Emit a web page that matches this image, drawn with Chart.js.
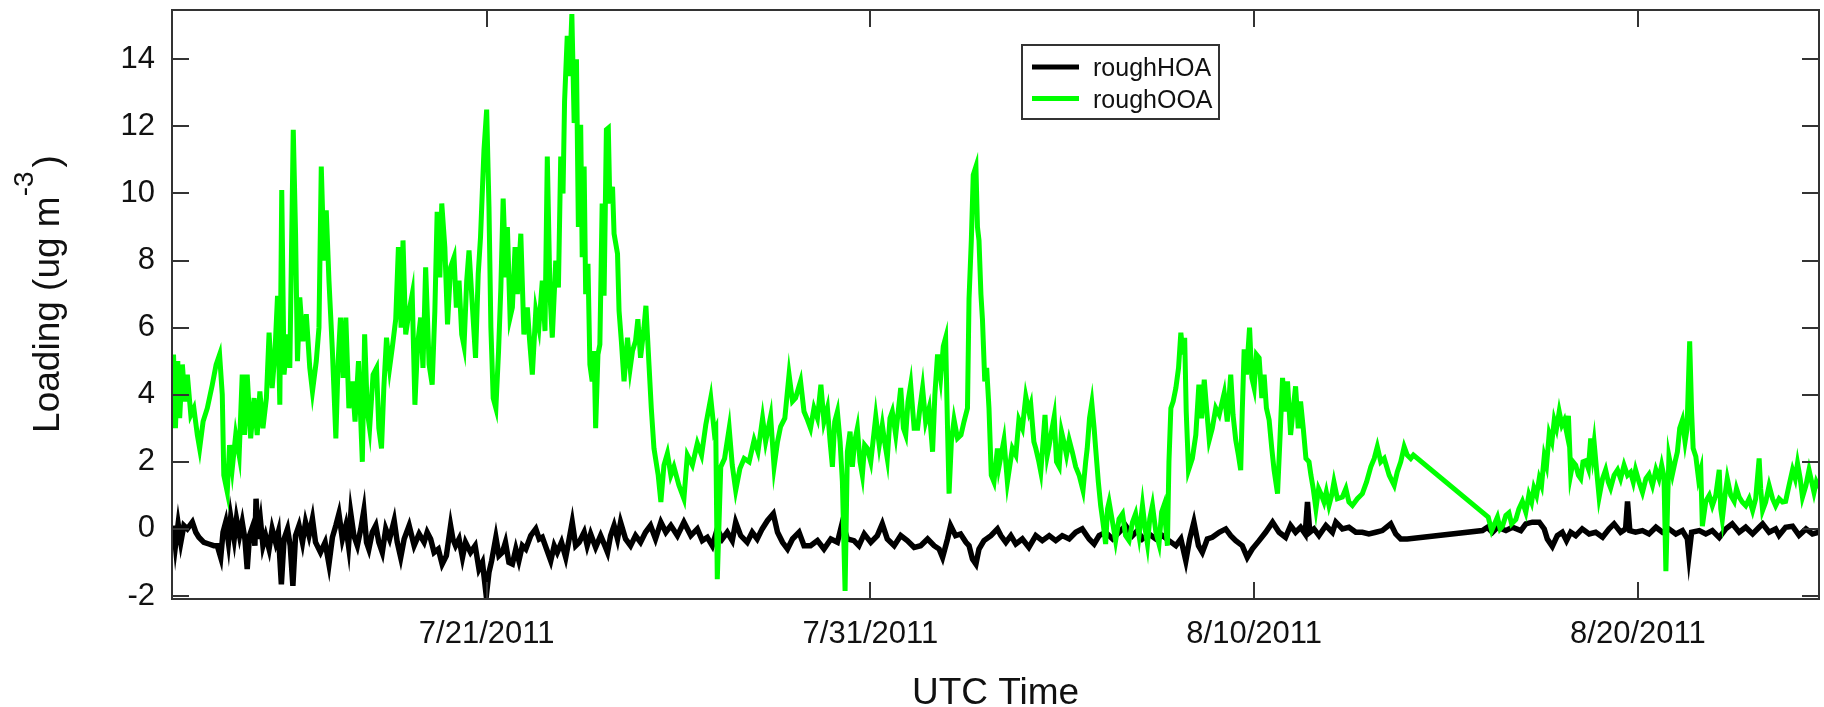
<!DOCTYPE html>
<html>
<head>
<meta charset="utf-8">
<script src="https://cdn.jsdelivr.net/npm/chart.js@4.4.0/dist/chart.umd.min.js"></script>
<style>
  html, body { margin: 0; padding: 0; background: #fff; }
  #contenitore { width: 1824px; height: 707px; }
</style>
</head>
<body>
<div id="contenitore"><canvas id="graficoLinee" width="1824" height="707"></canvas></div>
<script>
// tempo in giorni di luglio 2011 (32 = 1 agosto)
const xMin = 12.8;
const xMax = 55.72;
const xTickDays = [21, 31, 41, 51];
const xTickLabels = ["7/21/2011", "7/31/2011", "8/10/2011", "8/20/2011"];
const yTickValues = [-2, 0, 2, 4, 6, 8, 10, 12, 14];
const etichette = ["roughHOA", "roughOOA"];
const colori = ["#000000", "#00FF00"];

const ooaDays = [
  12.84, 12.89, 12.95, 13.0, 13.07, 13.14, 13.2, 13.29, 13.37, 13.46,
  13.52, 13.61, 13.72, 13.85, 13.95, 14.04, 14.11, 14.15, 14.24, 14.30,
  14.37, 14.46, 14.55, 14.63, 14.69, 14.76, 14.85, 14.94, 15.02, 15.09,
  15.17, 15.26, 15.33, 15.41, 15.48, 15.55, 15.61, 15.66, 15.72, 15.81,
  15.87, 15.96, 16.02, 16.07, 16.13, 16.21, 16.30, 16.39, 16.46, 16.56,
  16.63, 16.69, 16.76, 16.82, 16.89, 16.98, 17.07, 17.13, 17.19, 17.26,
  17.33, 17.41, 17.50, 17.57, 17.66, 17.76, 17.82, 17.89, 17.95, 18.04,
  18.13, 18.19, 18.26, 18.32, 18.39, 18.47, 18.54, 18.63, 18.70, 18.77,
  18.82, 18.89, 18.98, 19.06, 19.13, 19.20, 19.28, 19.34, 19.41, 19.50,
  19.58, 19.65, 19.71, 19.78, 19.83, 19.91, 19.98, 20.06, 20.15, 20.21,
  20.28, 20.35, 20.41, 20.48, 20.54, 20.63, 20.71, 20.78, 20.84, 20.93,
  21.0, 21.06, 21.11, 21.17, 21.24, 21.31, 21.37, 21.43, 21.50, 21.54,
  21.61, 21.67, 21.74, 21.80, 21.89, 21.97, 22.06, 22.12, 22.19, 22.28,
  22.36, 22.45, 22.52, 22.58, 22.65, 22.71, 22.80, 22.87, 22.93, 22.99,
  23.03, 23.10, 23.16, 23.22, 23.28, 23.34, 23.39, 23.45, 23.49, 23.54,
  23.58, 23.64, 23.69, 23.75, 23.80, 23.84, 23.90, 23.95, 24.01, 24.06,
  24.12, 24.17, 24.21, 24.28, 24.32, 24.41, 24.45, 24.51, 24.58, 24.67,
  24.74, 24.80, 24.88, 24.94, 25.01, 25.10, 25.15, 25.23, 25.29, 25.36,
  25.47, 25.54, 25.62, 25.71, 25.80, 25.88, 26.01, 26.14, 26.23, 26.36,
  26.49, 26.60, 26.71, 26.84, 26.93, 26.97, 27.01, 27.10, 27.20, 27.32,
  27.40, 27.49, 27.60, 27.71, 27.84, 27.97, 28.07, 28.19, 28.27, 28.40,
  28.49, 28.58, 28.66, 28.77, 28.88, 28.97, 29.05, 29.18, 29.27, 29.36,
  29.44, 29.53, 29.62, 29.71, 29.79, 29.88, 29.95, 30.01, 30.07, 30.14,
  30.21, 30.27, 30.34, 30.40, 30.47, 30.53, 30.59, 30.66, 30.73, 30.79,
  30.85, 30.92, 31.01, 31.14, 31.23, 31.31, 31.37, 31.44, 31.51, 31.57,
  31.66, 31.79, 31.86, 31.92, 31.98, 32.05, 32.14, 32.23, 32.29, 32.36,
  32.44, 32.53, 32.62, 32.68, 32.75, 32.83, 32.90, 32.96, 33.01, 33.05,
  33.11, 33.18, 33.27, 33.36, 33.44, 33.53, 33.57, 33.63, 33.68, 33.75,
  33.79, 33.83, 33.88, 33.92, 33.98, 34.03, 34.09, 34.15, 34.22, 34.31,
  34.35, 34.48, 34.57, 34.70, 34.79, 34.87, 34.96, 35.05, 35.13, 35.18,
  35.26, 35.31, 35.39, 35.44, 35.50, 35.55, 35.61, 35.66, 35.72, 35.79,
  35.85, 35.92, 35.98, 36.05, 36.11, 36.18, 36.26, 36.35, 36.44, 36.54,
  36.61, 36.65, 36.71, 36.77, 36.83, 36.87, 36.94, 37.00, 37.06, 37.13,
  37.18, 37.22, 37.31, 37.39, 37.48, 37.57, 37.65, 37.74, 37.83, 37.91,
  38.00, 38.09, 38.16, 38.22, 38.28, 38.35, 38.44, 38.52, 38.59, 38.65,
  38.74, 38.78, 38.83, 38.89, 38.96, 39.03, 39.09, 39.15, 39.19, 39.23,
  39.29, 39.39, 39.48, 39.56, 39.63, 39.70, 39.76, 39.83, 39.91, 40.00,
  40.09, 40.22, 40.30, 40.39, 40.45, 40.52, 40.59, 40.65, 40.69, 40.74,
  40.80, 40.88, 40.94, 41.00, 41.06, 41.13, 41.20, 41.26, 41.32, 41.39,
  41.46, 41.52, 41.61, 41.67, 41.74, 41.81, 41.87, 41.95, 42.02, 42.08,
  42.15, 42.21, 42.28, 42.35, 42.43, 42.48, 42.54, 42.61, 42.68, 42.74,
  42.82, 42.88, 42.95, 43.02, 43.08, 43.17, 43.30, 43.39, 43.47, 43.56,
  43.69, 43.82, 43.93, 44.04, 44.13, 44.21, 44.30, 44.39, 44.52, 44.65,
  44.73, 44.82, 44.91, 44.99, 45.08, 45.15, 47.10, 47.19, 47.34, 47.41,
  47.47, 47.56, 47.64, 47.71, 47.82, 47.90, 47.99, 48.08, 48.16, 48.23,
  48.29, 48.36, 48.43, 48.49, 48.56, 48.62, 48.69, 48.76, 48.82, 48.88,
  48.95, 49.02, 49.08, 49.14, 49.19, 49.25, 49.31, 49.38, 49.45, 49.51,
  49.57, 49.64, 49.71, 49.77, 49.82, 49.86, 49.92, 49.99, 50.08, 50.16,
  50.23, 50.29, 50.38, 50.47, 50.55, 50.64, 50.73, 50.81, 50.88, 50.94,
  51.03, 51.12, 51.21, 51.29, 51.38, 51.47, 51.55, 51.62, 51.68, 51.73,
  51.78, 51.81, 51.90, 51.97, 52.03, 52.09, 52.16, 52.23, 52.28, 52.35,
  52.40, 52.44, 52.51, 52.58, 52.64, 52.68, 52.73, 52.77, 52.86, 52.94,
  53.03, 53.12, 53.16, 53.20, 53.27, 53.33, 53.42, 53.51, 53.57, 53.64,
  53.72, 53.81, 53.90, 53.99, 54.07, 54.16, 54.20, 54.25, 54.33, 54.42,
  54.51, 54.59, 54.68, 54.77, 54.85, 54.94, 55.03, 55.10, 55.16, 55.23,
  55.29, 55.38, 55.46, 55.53, 55.59, 55.65, 55.72
];
const ooaLoad = [
  5.2, 3.0, 5.0, 3.3, 4.9, 3.8, 4.6, 3.4, 3.6, 2.8,
  2.4, 3.2, 3.6, 4.3, 4.9, 5.2, 4.0, 1.6, 1.1, 2.5,
  1.8, 2.8, 2.2, 4.6, 2.8, 4.6, 2.7, 3.9, 2.8, 4.1,
  3.0, 3.9, 5.85, 4.2, 5.2, 6.95, 3.7, 10.1, 4.6, 5.8,
  4.8, 11.9, 8.8, 5.0, 6.9, 5.6, 6.4, 4.8, 4.1, 5.0,
  6.0, 10.8, 8.0, 9.5, 7.4, 5.3, 2.7, 5.0, 6.3, 4.5,
  6.3, 3.6, 4.4, 3.2, 5.0, 2.0, 5.8, 3.5, 3.0, 4.6,
  4.8, 3.0, 2.4, 4.2, 5.7, 4.8, 5.4, 6.25, 8.4, 6.0,
  8.6, 5.8, 6.5, 7.0, 3.7, 5.5, 6.3, 4.8, 7.8, 4.9,
  4.3, 6.5, 9.45, 7.5, 9.7, 8.4, 6.1, 7.8, 8.1, 6.6,
  7.4, 5.8, 5.45, 7.4, 8.3, 6.6, 5.1, 7.6, 8.7, 11.3,
  12.5, 9.6, 6.0, 3.9, 3.6, 5.3, 7.2, 9.85, 7.5, 9.0,
  6.3, 6.6, 8.4, 7.0, 8.8, 5.8, 6.6, 5.6, 4.6, 6.5,
  6.0, 7.4, 5.9, 11.1, 7.0, 5.7, 8.0, 7.2, 11.1, 10.0,
  12.75, 14.7, 13.5, 15.35, 12.1, 14.0, 9.0, 12.05, 8.1, 10.8,
  7.0, 7.9, 4.9, 4.4, 5.3, 3.0, 5.2, 5.5, 9.7, 6.95,
  11.9, 11.95, 9.7, 10.2, 8.8, 8.2, 6.5, 5.6, 4.4, 5.7,
  4.8, 5.3, 5.6, 6.25, 5.1, 6.0, 6.65, 4.9, 3.6, 2.4,
  1.6, 0.8, 1.9, 2.25, 1.6, 1.85, 1.3, 0.9, 2.2, 1.9,
  2.55, 2.2, 3.1, 3.9, 2.9, 3.0, -1.5, 1.85, 2.1, 3.0,
  1.9, 1.15, 1.8, 2.1, 2.0, 2.65, 2.3, 3.3, 2.6, 3.35,
  1.85, 2.6, 3.05, 3.3, 4.6, 3.8, 3.9, 4.4, 3.5, 3.25,
  3.0, 3.6, 3.3, 4.3, 3.2, 3.6, 2.6, 1.85, 3.2, 3.5,
  2.6, 1.4, -1.85, 2.3, 2.9, 1.85, 2.6, 3.0, 2.0, 1.6,
  2.5, 2.4, 2.0, 3.35, 2.5, 3.1, 2.6, 2.1, 3.3, 3.5,
  2.8, 4.2, 3.0, 2.8, 3.8, 4.3, 3.0, 3.0, 3.6, 4.2,
  3.2, 3.6, 2.3, 4.0, 5.2, 4.5, 5.45, 5.7, 3.0, 1.05,
  2.6, 3.25, 2.7, 2.8, 3.2, 3.6, 6.85, 8.6, 10.55, 10.8,
  9.0, 8.6, 7.0, 6.25, 4.4, 4.8, 3.6, 1.6, 1.4, 2.4,
  1.85, 2.65, 1.4, 2.4, 2.2, 3.25, 3.0, 3.95, 3.5, 3.7,
  2.6, 2.4, 2.0, 1.7, 2.6, 3.4, 2.2, 2.5, 2.9, 3.35,
  2.0, 1.85, 2.9, 2.55, 2.2, 2.65, 2.3, 1.85, 1.6, 1.15,
  2.0, 2.4, 3.3, 3.75, 3.0, 2.4, 1.4, 0.7, 0.2, -0.45,
  0.6, 0.8, 0.2, -0.35, 0.3, 0.45, -0.2, -0.35, 0.2, 0.45,
  -0.2, 0.7, 0.0, -0.45, 0.3, 0.7, -0.1, -0.45, 0.5, 0.7,
  -0.5, 2.0, 3.6, 3.8, 4.2, 4.8, 5.85, 5.2, 5.7, 3.5,
  1.75, 2.1, 2.8, 4.3, 3.3, 4.45, 3.6, 2.65, 3.0, 3.6,
  3.4, 4.05, 3.2, 4.6, 3.4, 2.65, 2.2, 1.75, 3.5, 5.35,
  4.6, 6.0, 4.5, 4.2, 5.2, 5.1, 3.9, 4.6, 3.6, 3.25,
  2.4, 1.75, 1.05, 2.6, 4.5, 3.5, 4.4, 2.8, 3.6, 4.25,
  3.0, 3.8, 3.0, 2.1, 2.0, 1.6, 1.2, 0.6, 1.2, 1.05,
  0.8, 1.1, 0.7, 1.0, 1.4, 0.9, 0.95, 1.2, 0.8, 0.7,
  0.9, 1.05, 1.4, 1.85, 2.1, 2.45, 2.0, 2.1, 1.6, 1.3,
  1.7, 2.0, 2.45, 2.2, 2.1, 2.2, 0.35, -0.05, 0.35, 0.0,
  0.08, 0.4, 0.48, 0.15, 0.28, 0.6, 0.82, 0.5, 1.02, 0.8,
  1.22, 1.0, 1.5, 1.3, 2.16, 1.9, 2.84, 2.6, 3.24, 3.0,
  3.5, 3.1, 3.24, 2.9, 3.37, 1.63, 2.0, 1.9, 1.6, 1.5,
  2.0, 2.03, 1.8, 2.7, 2.2, 2.57, 1.8, 0.95, 1.5, 1.76,
  1.4, 1.22, 1.6, 1.76, 1.5, 1.9, 1.6, 1.69, 1.4, 1.76,
  1.4, 1.09, 1.5, 1.63, 1.3, 1.76, 1.5, 1.9, 1.56, -1.26,
  1.0, 2.16, 1.63, 2.0, 2.3, 3.0, 3.24, 2.6, 2.97, 5.59,
  3.5, 2.4, 2.16, 1.5, 1.76, 0.08, 0.5, 0.82, 1.0, 0.69,
  1.0, 1.76, 0.6, 0.28, 1.0, 1.5, 1.0, 0.82, 1.2, 0.95,
  0.8, 0.69, 0.9, 0.55, 0.9, 2.1, 1.2, 0.55, 0.8, 1.29,
  0.9, 0.69, 0.9, 0.8, 0.82, 1.3, 1.76, 1.5, 1.96, 1.5,
  0.95, 1.3, 1.76, 1.4, 1.09, 1.4, 1.22
];

const hoaDays = [
  12.84, 12.89, 12.96, 13.03, 13.11, 13.20, 13.33, 13.42, 13.50, 13.63,
  13.76, 13.89, 13.98, 14.07, 14.13, 14.20, 14.27, 14.33, 14.42, 14.48,
  14.56, 14.63, 14.70, 14.76, 14.82, 14.91, 14.96, 14.99, 15.05, 15.11,
  15.17, 15.24, 15.33, 15.41, 15.50, 15.57, 15.65, 15.72, 15.81, 15.88,
  15.95, 16.02, 16.11, 16.20, 16.28, 16.37, 16.46, 16.54, 16.67, 16.79,
  16.89, 16.98, 17.07, 17.15, 17.24, 17.33, 17.40, 17.46, 17.54, 17.63,
  17.72, 17.80, 17.87, 17.93, 18.02, 18.11, 18.19, 18.28, 18.37, 18.47,
  18.59, 18.67, 18.76, 18.85, 18.98, 19.11, 19.24, 19.37, 19.45, 19.54,
  19.63, 19.74, 19.84, 19.95, 20.06, 20.12, 20.19, 20.28, 20.37, 20.45,
  20.58, 20.70, 20.80, 20.89, 20.99, 21.06, 21.13, 21.24, 21.32, 21.41,
  21.49, 21.58, 21.67, 21.76, 21.84, 21.93, 22.02, 22.15, 22.28, 22.37,
  22.45, 22.56, 22.67, 22.76, 22.84, 22.95, 23.06, 23.15, 23.23, 23.32,
  23.41, 23.54, 23.62, 23.71, 23.84, 23.97, 24.08, 24.15, 24.23, 24.32,
  24.41, 24.49, 24.62, 24.75, 24.88, 25.01, 25.14, 25.27, 25.40, 25.54,
  25.67, 25.80, 25.97, 26.14, 26.32, 26.49, 26.62, 26.75, 26.88, 27.01,
  27.14, 27.27, 27.40, 27.49, 27.62, 27.79, 27.92, 28.05, 28.18, 28.32,
  28.47, 28.58, 28.71, 28.84, 28.97, 29.14, 29.27, 29.44, 29.62, 29.79,
  29.97, 30.14, 30.27, 30.40, 30.57, 30.70, 30.84, 31.01, 31.18, 31.31,
  31.44, 31.62, 31.79, 31.96, 32.14, 32.31, 32.49, 32.66, 32.79, 32.88,
  33.01, 33.09, 33.22, 33.35, 33.49, 33.57, 33.66, 33.75, 33.83, 33.96,
  34.14, 34.31, 34.40, 34.53, 34.66, 34.79, 34.96, 35.13, 35.31, 35.48,
  35.66, 35.83, 36.00, 36.18, 36.35, 36.52, 36.70, 36.83, 36.96, 37.13,
  37.31, 37.48, 37.65, 37.83, 37.96, 38.09, 38.26, 38.44, 38.61, 38.78,
  38.96, 39.09, 39.22, 39.32, 39.43, 39.55, 39.65, 39.78, 39.91, 40.09,
  40.26, 40.39, 40.52, 40.69, 40.82, 40.95, 41.13, 41.30, 41.48, 41.65,
  41.82, 41.95, 42.08, 42.21, 42.33, 42.39, 42.45, 42.56, 42.69, 42.87,
  43.04, 43.13, 43.30, 43.47, 43.65, 43.82, 43.99, 44.17, 44.34, 44.56,
  44.69, 44.82, 44.99, 46.95, 47.08, 47.21, 47.34, 47.56, 47.73, 47.95,
  48.08, 48.25, 48.43, 48.56, 48.64, 48.77, 48.90, 49.03, 49.14, 49.25,
  49.38, 49.55, 49.73, 49.90, 50.08, 50.25, 50.38, 50.55, 50.68, 50.73,
  50.79, 50.94, 51.12, 51.29, 51.47, 51.64, 51.81, 51.99, 52.16, 52.29,
  52.33, 52.40, 52.60, 52.77, 52.94, 53.12, 53.29, 53.46, 53.64, 53.81,
  53.99, 54.16, 54.25, 54.42, 54.59, 54.68, 54.85, 55.03, 55.20, 55.38,
  55.55, 55.72
];
const hoaLoad = [
  0.1, -0.5, 0.15, -0.4, 0.1, 0.0, 0.2, -0.1, -0.25, -0.4,
  -0.45, -0.5, -0.5, -0.85, -0.1, 0.2, -0.4, 0.35, -0.3, 0.3,
  -0.2, 0.2, -0.3, -1.2, -0.2, 0.1, -0.5, 0.9, -0.3, 0.2,
  -0.5, -0.2, -0.6, 0.0, -0.4, -0.1, -1.65, -0.3, 0.0, -0.5,
  -1.7, -0.2, 0.1, -0.4, 0.2, -0.2, 0.3, -0.4, -0.7, -0.4,
  -1.05, -0.25, 0.1, 0.45, -0.3, 0.1, -0.5, 0.45, -0.2, -0.5,
  0.0, 0.55, -0.4, -0.6, -0.1, 0.1, -0.4, -0.7, 0.0, -0.3,
  0.25, -0.4, -0.85, -0.3, 0.1, -0.5, -0.15, -0.4, -0.1, -0.3,
  -0.7, -0.6, -1.05, -0.8, 0.1, -0.3, -0.5, -0.3, -0.85, -0.4,
  -0.7, -0.5, -1.2, -1.0, -2.0, -1.3, -0.95, -0.25, -0.8, -0.7,
  -0.4, -1.0, -1.05, -0.6, -0.95, -0.5, -0.6, -0.2, 0.0, -0.3,
  -0.25, -0.6, -0.95, -0.5, -0.7, -0.4, -0.85, -0.3, 0.2, -0.5,
  -0.4, -0.1, -0.5, -0.15, -0.55, -0.2, -0.5, -0.7, -0.2, 0.1,
  -0.3, 0.2, -0.3, -0.5, -0.2, -0.4, -0.1, 0.1, -0.3, 0.2,
  -0.1, 0.1, -0.2, 0.2, -0.2, 0.0, -0.35, -0.25, -0.5, 0.0,
  -0.3, -0.1, -0.35, 0.2, -0.2, -0.4, -0.1, -0.3, 0.0, 0.25,
  0.45, -0.1, -0.4, -0.6, -0.3, -0.1, -0.5, -0.5, -0.35, -0.6,
  -0.3, -0.4, 0.2, -0.3, -0.35, -0.5, -0.15, -0.4, -0.2, 0.15,
  -0.3, -0.5, -0.2, -0.35, -0.55, -0.5, -0.3, -0.5, -0.6, -0.85,
  -0.3, 0.1, -0.2, -0.15, -0.4, -0.5, -0.9, -1.05, -0.6, -0.35,
  -0.2, 0.0, -0.2, -0.4, -0.2, -0.45, -0.3, -0.55, -0.2, -0.35,
  -0.2, -0.35, -0.2, -0.3, -0.1, 0.0, -0.3, -0.45, -0.2, -0.1,
  -0.3, -0.1, 0.1, -0.2, -0.05, -0.3, -0.15, -0.3, -0.2, -0.35,
  -0.5, -0.3, -0.95, -0.3, 0.2, -0.5, -0.7, -0.3, -0.25, -0.1,
  0.0, -0.2, -0.35, -0.5, -0.85, -0.6, -0.35, -0.1, 0.2, -0.1,
  -0.25, 0.1, -0.1, 0.05, -0.15, 0.8, -0.1, 0.0, -0.2, 0.1,
  -0.1, 0.2, 0.0, 0.05, -0.1, -0.1, -0.15, -0.1, -0.05, 0.15,
  -0.15, -0.3, -0.3, -0.05, 0.05, -0.1, 0.05, -0.05, 0.05, -0.05,
  0.15, 0.2, 0.2, 0.0, -0.3, -0.52, -0.2, -0.1, -0.35, -0.1,
  -0.2, 0.0, -0.15, -0.1, -0.25, 0.0, 0.15, -0.1, 0.0, 0.82,
  -0.05, -0.1, -0.05, -0.15, 0.05, -0.1, 0.0, -0.15, -0.05, -0.3,
  -0.79, -0.1, -0.05, -0.15, -0.05, -0.26, 0.0, 0.15, -0.1, 0.05,
  -0.15, 0.05, 0.15, -0.1, 0.0, -0.19, 0.05, 0.08, -0.19, 0.0,
  -0.15, -0.1
];

const fontBase = '"Liberation Sans", Arial, sans-serif';

const punti = function (giorni, valori) {
  return giorni.map((g, i) => ({ x: g, y: valori[i] }));
};

// cornice, tacche interne, legenda e titoli degli assi
const cornice = {
  id: "cornice",
  afterDraw(chart) {
    const { ctx, chartArea: a, scales } = chart;
    ctx.save();
    ctx.strokeStyle = "#333333";
    ctx.lineWidth = 2;
    ctx.strokeRect(a.left, a.top, a.right - a.left, a.bottom - a.top);

    const lung = 17;
    ctx.beginPath();
    scales.y.ticks.forEach((t) => {
      const y = Math.round(scales.y.getPixelForValue(t.value));
      ctx.moveTo(a.left, y);
      ctx.lineTo(a.left + lung, y);
      ctx.moveTo(a.right, y);
      ctx.lineTo(a.right - lung, y);
    });
    scales.x.ticks.forEach((t) => {
      const x = Math.round(scales.x.getPixelForValue(t.value));
      ctx.moveTo(x, a.bottom);
      ctx.lineTo(x, a.bottom - lung);
      ctx.moveTo(x, a.top);
      ctx.lineTo(x, a.top + lung);
    });
    ctx.stroke();

    // legenda
    const lx = 1022, ly = 45, lw = 197, lh = 74;
    ctx.fillStyle = "#ffffff";
    ctx.fillRect(lx, ly, lw, lh);
    ctx.strokeRect(lx, ly, lw, lh);
    ctx.font = "25px " + fontBase;
    ctx.textAlign = "left";
    ctx.textBaseline = "alphabetic";
    chart.data.datasets.forEach((ds, i) => {
      const yy = ly + 22 + i * 31.5;
      ctx.strokeStyle = ds.borderColor;
      ctx.lineWidth = 5;
      ctx.beginPath();
      ctx.moveTo(lx + 10, yy);
      ctx.lineTo(lx + 57, yy);
      ctx.stroke();
      ctx.fillStyle = "#111111";
      ctx.fillText(ds.label, lx + 71, yy + 9);
    });

    // titolo asse x
    ctx.fillStyle = "#111111";
    ctx.font = "37px " + fontBase;
    ctx.textAlign = "center";
    ctx.fillText("UTC Time", (a.left + a.right) / 2, 704);

    // titolo asse y con esponente
    const parte1 = "Loading (ug m";
    const esp = "-3";
    const parte2 = ")";
    ctx.font = "37px " + fontBase;
    const w1 = ctx.measureText(parte1).width;
    const w3 = ctx.measureText(parte2).width;
    ctx.font = "28px " + fontBase;
    const w2 = ctx.measureText(esp).width;
    const tot = w1 + w2 + w3 + 4;
    ctx.translate(59, 294);
    ctx.rotate(-Math.PI / 2);
    ctx.textAlign = "left";
    let px = -tot / 2;
    ctx.font = "37px " + fontBase;
    ctx.fillText(parte1, px, 0);
    px += w1;
    ctx.font = "28px " + fontBase;
    ctx.fillText(esp, px, -26);
    px += w2 + 4;
    ctx.font = "37px " + fontBase;
    ctx.fillText(parte2, px, 0);
    ctx.restore();
  }
};

const canvas = document.getElementById("graficoLinee");
const grafico = new Chart(canvas, {
  type: "line",
  data: {
    datasets: [
      {
        label: etichette[0],
        data: punti(hoaDays, hoaLoad),
        borderColor: colori[0],
        borderWidth: 5.5,
        pointRadius: 0,
        tension: 0,
        order: 1,
      },
      {
        label: etichette[1],
        data: punti(ooaDays, ooaLoad),
        borderColor: colori[1],
        borderWidth: 5,
        pointRadius: 0,
        tension: 0,
        order: 0,
      },
    ],
  },
  options: {
    responsive: false,
    animation: false,
    layout: { padding: { left: 0, right: 5, top: 10, bottom: 0 } },
    scales: {
      x: {
        type: "linear",
        min: xMin,
        max: xMax,
        grid: { display: false },
        border: { display: false },
        afterBuildTicks: (s) => {
          s.ticks = xTickDays.map((v) => ({ value: v }));
        },
        afterFit: (s) => {
          s.height = 108;
          s.paddingLeft = 0;
          s.paddingRight = 0;
        },
        ticks: {
          autoSkip: false,
          maxRotation: 0,
          padding: 9,
          color: "#111111",
          font: { family: fontBase, size: 31 },
          callback: (v) => xTickLabels[xTickDays.indexOf(v)],
        },
      },
      y: {
        type: "linear",
        min: -2.09,
        max: 15.47,
        grid: { display: false },
        border: { display: false },
        afterBuildTicks: (s) => {
          s.ticks = yTickValues.map((v) => ({ value: v }));
        },
        afterFit: (s) => {
          s.width = 172;
          s.paddingTop = 0;
          s.paddingBottom = 0;
        },
        ticks: {
          padding: 9,
          color: "#111111",
          font: { family: fontBase, size: 31 },
        },
      },
    },
    plugins: {
      legend: { display: false },
      tooltip: { enabled: false },
    },
  },
  plugins: [cornice],
});
</script>
</body>
</html>
